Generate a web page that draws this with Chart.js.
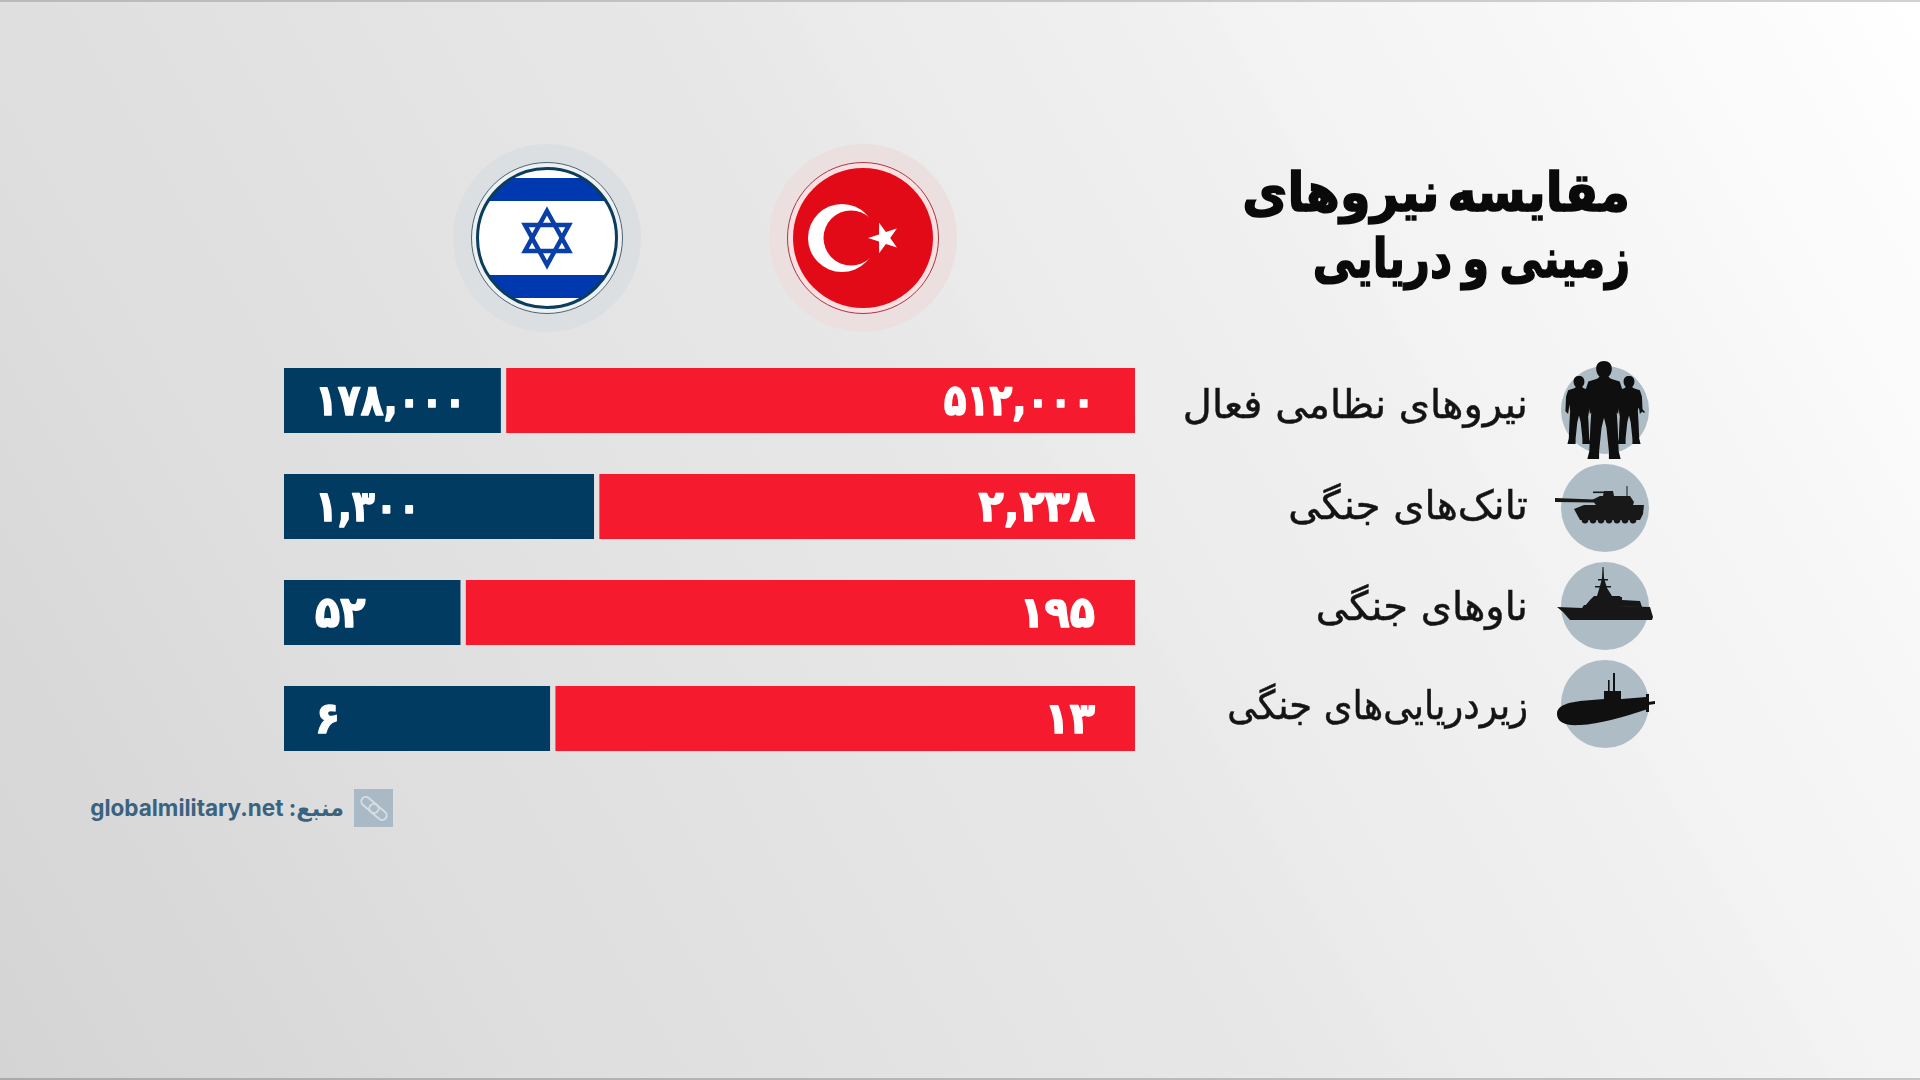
<!DOCTYPE html>
<html lang="fa">
<head>
<meta charset="utf-8">
<title>مقایسه نیروهای زمینی و دریایی</title>
<script src="https://cdn.jsdelivr.net/npm/chart.js@4"></script>
<style>
  html, body { margin: 0; padding: 0; }
  body {
    width: 1920px; height: 1080px; overflow: hidden; position: relative;
    background:
      linear-gradient(60deg, rgba(255,255,255,0) 55.5%, rgba(255,255,255,.03) 55.5%, rgba(255,255,255,.03) 72%, rgba(255,255,255,.06) 72%),
      linear-gradient(60deg, #d4d4d4 0%, #dfdfdf 24.5%, #e7e7e7 50%, #f3f3f3 75.5%, #ffffff 100%);
    font-family: "DejaVu Sans", sans-serif;
  }
  body::before, body::after { content: ""; position: absolute; left: 0; width: 100%; height: 2px; }
  body::before { top: 0; background: linear-gradient(90deg, #b9b9b9, #d2d2d2); }
  body::after { bottom: 0; background: linear-gradient(90deg, #aaaaaa, #c4c4c4); }
  #art { position: absolute; left: 0; top: 0; }
  #chart { position: absolute; left: 0; top: 0; width: 1920px; height: 1080px; }
  .title, .cat { position: absolute; direction: rtl; text-align: right; white-space: nowrap; }
  .title { right: 290px; top: 160px; font-size: 54px; font-weight: 700; color: #0a0a0a; line-height: 66px; -webkit-text-stroke: 1.6px #0a0a0a; }
  .title div { transform-origin: right center; }
  .title .l1 { transform: scaleX(.91); word-spacing: -10px; }
  .title .l2 { transform: scaleX(.80); word-spacing: -6px; }
  .cat { right: 392px; font-size: 40px; color: #141414; line-height: 50px; -webkit-text-stroke: .5px #141414; transform-origin: right center; }
  .source {
    position: absolute; right: 1576px; top: 794px; line-height: 32px; white-space: nowrap;
    font: 700 22.5px Inter, "DejaVu Sans", sans-serif; color: #39637f; direction: rtl;
  }
</style>
</head>
<body>
<svg id="art" width="1920" height="1080" viewBox="0 0 1920 1080">
  <!-- israel flag -->
  <circle cx="547" cy="238" r="94" fill="#dbdfe1"/>
  <circle cx="547" cy="238" r="75.5" fill="#eef0f1" stroke="#4a6475" stroke-width="1"/>
  <clipPath id="ilClip"><circle cx="547" cy="238" r="69"/></clipPath>
  <g clip-path="url(#ilClip)">
    <rect x="470" y="160" width="154" height="156" fill="#fff"/>
    <rect x="470" y="178" width="154" height="23" fill="#0038b0"/>
    <rect x="470" y="275" width="154" height="23" fill="#0038b0"/>
  </g>
  <circle cx="547" cy="238" r="69.5" fill="none" stroke="#0b3d5c" stroke-width="3"/>
  <g fill="none" stroke="#0a3fa8" stroke-width="4.5">
    <path d="M547 211 L569 251 L525 251 Z"/>
    <path d="M547 265 L525 225 L569 225 Z"/>
  </g>
  <!-- turkey flag -->
  <circle cx="863" cy="238" r="94" fill="#ebdfdf"/>
  <circle cx="863" cy="238" r="75.5" fill="#fbdfe1" stroke="#a33a45" stroke-width="1"/>
  <circle cx="863" cy="238" r="70" fill="#e30a17"/>
  <circle cx="842" cy="238" r="34" fill="#fff"/>
  <circle cx="851" cy="238" r="27.5" fill="#e30a17"/>
  <path fill="#fff" d="M868 238 L879 234.4 L879.1 222.8 L885.9 232.1 L896.9 228.6 L890.2 238 L896.9 247.4 L885.9 243.9 L879.1 253.2 L879 241.6 Z"/>
  <!-- icon discs -->
  <g fill="#aebcc6">
    <circle cx="1605" cy="410" r="44"/>
    <circle cx="1605" cy="508" r="44"/>
    <circle cx="1605" cy="606" r="44"/>
    <circle cx="1605" cy="704" r="44"/>
  </g>
  <!-- soldiers -->
  <defs>
    <path id="soldier" d="M0 0 C5 0 8 3 8 8 C8 12 6 15 4.5 16 L7 18 L16 21 L19 30 L20 52 L16 56 L14 42 L13 52 L14 68 L15 92 L17 100 L5 100 L5 92 L2.5 68 L0 58 L-2.5 68 L-5 92 L-5 100 L-17 100 L-15 92 L-14 68 L-13 52 L-14 42 L-16 56 L-20 52 L-19 30 L-16 21 L-7 18 L-4.5 16 C-6 15 -8 12 -8 8 C-8 3 -5 0 0 0 Z"/>
  </defs>
  <g fill="#0f0f0f">
    <use href="#soldier" transform="translate(1579 376) scale(.68)"/>
    <use href="#soldier" transform="translate(1629 376) scale(.68)"/>
    <path d="M1632 398 L1645 412 L1644 413 L1630 401 Z"/>
    <use href="#soldier" transform="translate(1604 361) scale(.98)"/>
  </g>
  <!-- tank -->
  <g fill="#181818">
    <path d="M1555 498 L1594 499.5 L1594 502.5 L1555 502 Z"/>
    <path d="M1596 505 L1592 500 L1600 496 L1630 496 L1634 502 L1633 505 Z"/>
    <path d="M1603 496 L1604 491 L1613 491 L1614 496 Z"/>
    <rect x="1593" y="491.5" width="20" height="1.6"/>
    <rect x="1626.5" y="486" width="1" height="10"/>
    <path d="M1574 509 L1584 505 L1644 505 L1643 514 L1640 520 L1580 520 Z"/>
    <circle cx="1585" cy="520" r="3.4"/><circle cx="1593" cy="520" r="3.4"/>
    <circle cx="1601" cy="520" r="3.4"/><circle cx="1609" cy="520" r="3.4"/>
    <circle cx="1617" cy="520" r="3.4"/><circle cx="1625" cy="520" r="3.4"/>
    <circle cx="1633" cy="520" r="3.4"/>
  </g>
  <!-- warship -->
  <g fill="#171717">
    <path d="M1557 607 L1582 608 L1584 605 L1650 607 L1653 617 L1652 620 L1570 620 L1563 612 Z"/>
    <path d="M1585 606 L1590 600 L1594 596 L1620 596 L1622 600 L1640 601 L1642 607 Z"/>
    <path d="M1597 596 L1600 586 L1602 578 L1602.5 567 L1603.5 567 L1604 578 L1607 588 L1612 596 Z"/>
    <rect x="1595" y="586" width="16" height="1.5"/>
    <rect x="1598" y="579" width="10" height="1.5"/>
    <rect x="1617" y="597" width="5" height="8"/>
  </g>
  <!-- submarine -->
  <g fill="#101010">
    <path d="M1557 714 C1557 705 1568 703 1580 701 L1604 699 L1622 699 L1646 697 L1648 709 C1620 718 1600 724 1580 725 C1565 726 1557 722 1557 714 Z"/>
    <rect x="1604" y="691" width="17" height="9"/>
    <rect x="1613" y="673" width="2" height="19"/>
    <rect x="1608" y="680" width="1.6" height="12"/>
    <path d="M1646 694 L1649 694 L1649 712 L1646 712 Z"/>
    <path d="M1648 702 L1655 701 L1655 704 L1648 705 Z"/>
  </g>
  <!-- source badge -->
  <rect x="354" y="789" width="39" height="38" fill="#a9b9c6"/>
  <g fill="none" stroke="#d5dde3" stroke-width="2">
    <rect x="360" y="800.5" width="20" height="9" rx="4.5" transform="rotate(40 370 805)"/>
    <rect x="368" y="807.5" width="20" height="9" rx="4.5" transform="rotate(40 378 812)"/>
  </g>
</svg>
<div class="title"><div class="l1">مقایسه نیروهای</div><div class="l2">زمینی و دریایی</div></div>
<div class="source"><span>منبع:</span> <bdi>globalmilitary.net</bdi></div>
<canvas id="chart" width="1920" height="1080"></canvas>
<script>
const categories = ["نیروهای نظامی فعال", "تانک‌های جنگی", "ناوهای جنگی", "زیردریایی‌های جنگی"];
const israelValues = [178000, 1300, 52, 6];
const turkeyValues = [512000, 2238, 195, 13];

const israelColor = "#023b62";
const turkeyColor = "#f61a2e";
// text rows do not sit on the bars in the original, they have their own spacing
const catRowY = [404, 505, 606, 705];

categories.forEach((name, i) => {
  const el = document.createElement("div");
  el.className = "cat";
  el.style.top = (catRowY[i] - 25) + "px";
  el.textContent = name;
  if (i == 3) el.style.transform = "scaleX(.92)"; // this one runs long in dejavu
  document.body.appendChild(el);
});

const toPersian = n => n.toLocaleString("en-US").replace(/\d/g, d => "۰۱۲۳۴۵۶۷۸۹"[d]);
const share = (a, b) => a.map((v, i) => v / (v + b[i]) * 100);

function drawValue(ctx, value, x, y) {
  const text = toPersian(value);
  // the zeros are narrow rings in the original, dejavu spaces them far apart
  const squeeze = text.includes("۰۰") ? 0.87 : 0.96;
  const width = ctx.measureText(text).width * squeeze;
  ctx.strokeText(text, x, y, width);
  ctx.fillText(text, x, y, width);
}

const valueLabels = {
  id: "valueLabels",
  afterDatasetsDraw(chart) {
    const ctx = chart.ctx;
    ctx.save();
    ctx.fillStyle = "#fff";
    ctx.strokeStyle = "#fff";
    ctx.lineWidth = 1.5;
    ctx.lineJoin = "round";
    ctx.font = "700 43px 'DejaVu Sans'";
    ctx.textBaseline = "middle";
    chart.getDatasetMeta(0).data.forEach((bar, i) => {
      ctx.textAlign = "left";
      drawValue(ctx, israelValues[i], bar.base + 31, bar.y + 3);
    });
    chart.getDatasetMeta(1).data.forEach((bar, i) => {
      ctx.textAlign = "right";
      drawValue(ctx, turkeyValues[i], bar.x - 40, bar.y + 3);
    });
    ctx.restore();
  }
};

new Chart(document.getElementById("chart"), {
  type: "bar",
  data: {
    labels: categories,
    datasets: [
      {
        label: "اسرائیل",
        data: share(israelValues, turkeyValues),
        backgroundColor: israelColor,
        borderColor: "transparent",
        borderWidth: { right: 3 },
        borderSkipped: false
      },
      {
        label: "ترکیه",
        data: share(turkeyValues, israelValues),
        backgroundColor: turkeyColor,
        borderColor: "transparent",
        borderWidth: { left: 3 },
        borderSkipped: false
      }
    ]
  },
  options: {
    indexAxis: "y",
    responsive: false,
    animation: false,
    devicePixelRatio: 1,
    layout: { padding: { left: 284, right: 785, top: 347.5, bottom: 308.5 } },
    plugins: { legend: { display: false }, tooltip: { enabled: false } },
    datasets: { bar: { barThickness: 65 } },
    scales: {
      x: { stacked: true, min: 0, max: 100, display: false },
      y: { stacked: true, display: false }
    }
  },
  plugins: [valueLabels]
});
</script>
</body>
</html>
